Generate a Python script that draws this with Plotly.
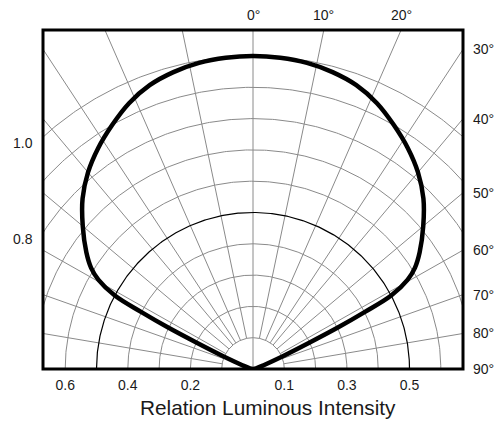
import numpy as np
import plotly.graph_objects as go

# ---- data: relative luminous intensity vs angle from the axis ----
angle_deg = [0, 5, 10, 15, 20, 25, 30, 35, 40, 45, 50, 55, 58, 60, 62, 63, 64, 65, 67, 70, 80, 90]
intensity = [1.0, 0.998, 0.993, 0.982, 0.965, 0.937, 0.90, 0.862, 0.82, 0.77, 0.71, 0.65, 0.61, 0.57,
             0.50, 0.40, 0.30, 0.20, 0.10, 0.04, 0.01, 0.0]

# ---- polar grid description ----
ring_radii = [0.1, 0.2, 0.3, 0.4, 0.5, 0.6, 0.7, 0.8, 0.9, 1.0]
highlight_ring = 0.5
spoke_labels = ["0°", "10°", "20°", "30°", "40°", "50°", "60°", "70°", "80°", "90°"]
spoke_angle_drawn = [0, 11.8, 23.6, 33.3, 40, 50, 60.5, 70.5, 80.4, 90]
x_tick_vals = [-0.6, -0.4, -0.2, 0.1, 0.3, 0.5]
x_tick_text = ["0.6", "0.4", "0.2", "0.1", "0.3", "0.5"]
left_label_text = ["1.0", "0.8"]
left_label_radii = [1.0, 0.8]
axis_title = "Relation Luminous Intensity"

FONT = "Liberation Sans, Arial, sans-serif"
TXT = "#1a1a1a"
GRID = "#8a8a8a"

W, H = 502, 424
ML, MR, MT, MB = 43, 39, 30, 55
pw, ph = W - ML - MR, H - MT - MB
scale = 313.0  # px per unit radius
xmax = pw / 2 / scale
ytop = ph / scale

fig = go.Figure()

# rings
gx, gy = [], []
t = np.radians(np.linspace(-90, 90, 361))
for r in ring_radii:
    if abs(r - highlight_ring) < 1e-9:
        continue
    gx += list(r * np.sin(t)) + [None]
    gy += list(r * np.cos(t)) + [None]
# spokes (both sides)
for a in spoke_angle_drawn:
    if a >= 90:
        continue
    sides = [1] if a == 0 else [1, -1]
    r0 = 0.0 if a == 0 else ring_radii[0]
    for s in sides:
        ar = np.radians(a) * s
        gx += [r0 * np.sin(ar), 2.0 * np.sin(ar), None]
        gy += [r0 * np.cos(ar), 2.0 * np.cos(ar), None]
fig.add_trace(go.Scatter(x=gx, y=gy, mode="lines", line=dict(color=GRID, width=1),
                         hoverinfo="skip", showlegend=False))

# highlighted ring
fig.add_trace(go.Scatter(x=highlight_ring * np.sin(t), y=highlight_ring * np.cos(t), mode="lines",
                         line=dict(color="black", width=1.2), hoverinfo="skip", showlegend=False))

# radiation pattern (mirrored)
th = [-a for a in angle_deg[::-1]] + angle_deg[1:]
rr = intensity[::-1] + intensity[1:]
thr = np.radians(th)
fig.add_trace(go.Scatter(x=np.array(rr) * np.sin(thr), y=np.array(rr) * np.cos(thr), mode="lines",
                         line=dict(color="black", width=4.5, shape="spline", smoothing=1.0),
                         showlegend=False))

ann = []
for lab, a in zip(spoke_labels, spoke_angle_drawn):
    if a < 90 and ytop * np.tan(np.radians(a)) <= xmax:
        xv = ytop * np.tan(np.radians(a))
        ann.append(dict(x=xv, xref="x", y=1, yref="paper", yanchor="middle", yshift=15,
                        text=lab, showarrow=False, font=dict(family=FONT, size=14, color=TXT)))
    else:
        yv = 0.0 if a >= 90 else xmax / np.tan(np.radians(a))
        ann.append(dict(x=1, xref="paper", xanchor="left", xshift=8, y=yv, yref="y", yanchor="middle",
                        text=lab, showarrow=False, font=dict(family=FONT, size=14, color=TXT)))
for lab, r in zip(left_label_text, left_label_radii):
    yv = np.sqrt(r * r - xmax * xmax)
    ann.append(dict(x=0, xref="paper", xanchor="right", xshift=-8, y=yv, yref="y", yanchor="middle",
                    yshift=-6, text=lab, showarrow=False, font=dict(family=FONT, size=14, color=TXT)))
ann.append(dict(x=(267.5 - ML) / pw, xref="paper", y=0, yref="paper", yanchor="middle", yshift=-38,
                text=axis_title, showarrow=False, font=dict(family=FONT, size=20.8, color=TXT)))

fig.update_layout(
    width=W, height=H, margin=dict(l=ML, r=MR, t=MT, b=MB),
    paper_bgcolor="white", plot_bgcolor="white",
    xaxis=dict(range=[-xmax, xmax], showgrid=False, zeroline=False, showline=False,
               tickmode="array", tickvals=x_tick_vals, ticktext=x_tick_text, ticks="",
               ticklabelstandoff=6, tickfont=dict(family=FONT, size=14, color=TXT), fixedrange=True),
    yaxis=dict(range=[0, ytop], showgrid=False, zeroline=False, showline=False,
               showticklabels=False, ticks="", fixedrange=True),
    annotations=ann,
    shapes=[dict(type="rect", xref="paper", yref="paper", x0=0, x1=1, y0=0, y1=1,
                 line=dict(color="black", width=3), layer="above")],
)

fig.write_html("out.html", config={"displayModeBar": False},
               post_script="document.body.style.margin='0';document.body.style.overflow='hidden';")
